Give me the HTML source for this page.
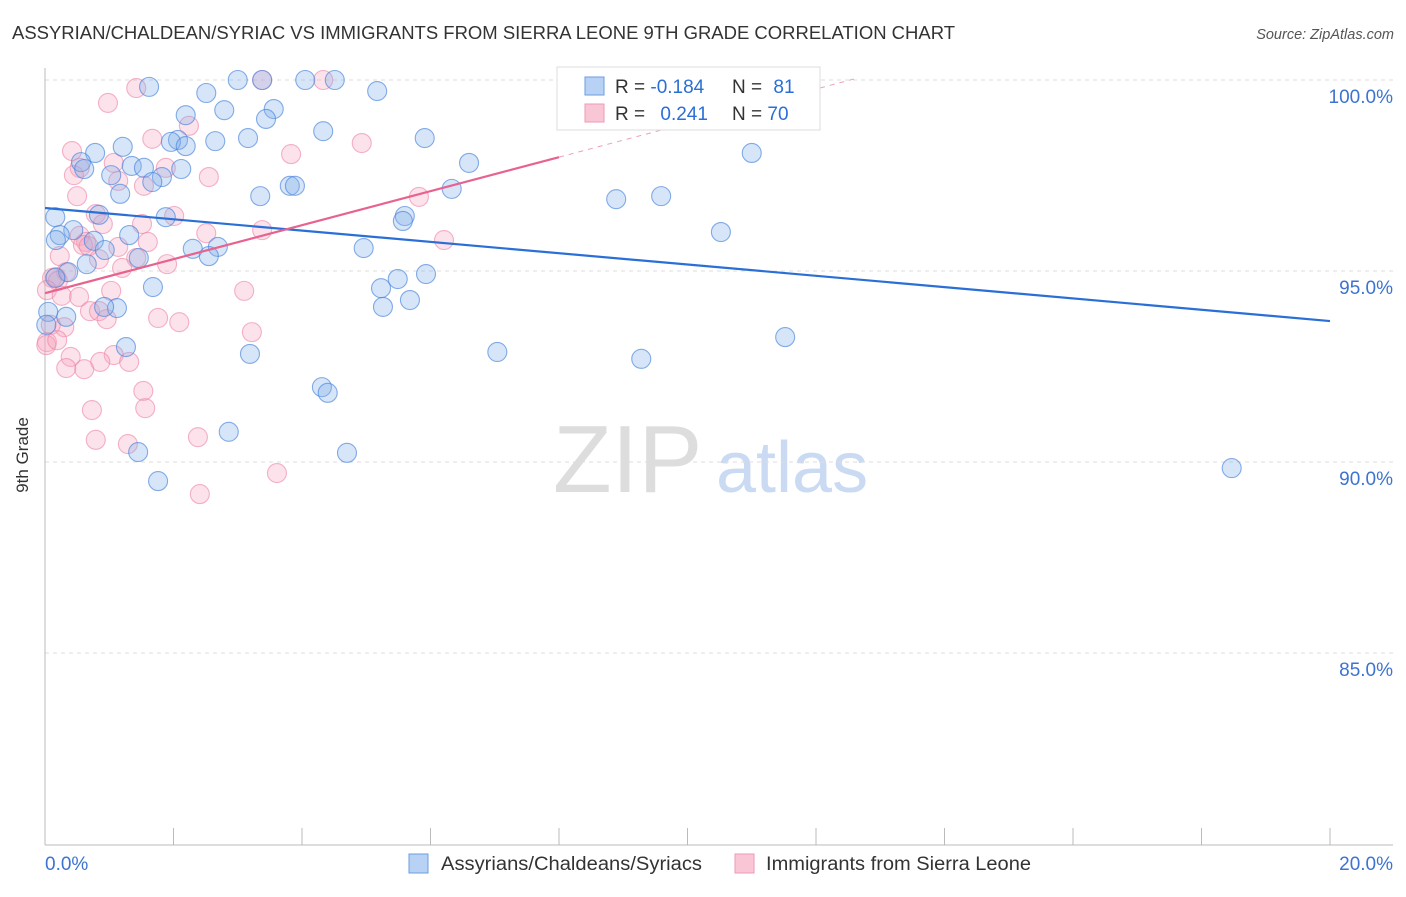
<!DOCTYPE html>
<html><head><meta charset="utf-8"><style>
body{margin:0;background:#fff;font-family:"Liberation Sans",sans-serif}
svg text{font-family:"Liberation Sans",sans-serif}
</style></head><body>
<svg width="1406" height="892" xmlns="http://www.w3.org/2000/svg">
<text x="12" y="39" font-size="18" fill="#333" textLength="943" lengthAdjust="spacingAndGlyphs">ASSYRIAN/CHALDEAN/SYRIAC VS IMMIGRANTS FROM SIERRA LEONE 9TH GRADE CORRELATION CHART</text>
<text x="1394" y="39" font-size="14.5" fill="#555" font-style="italic" text-anchor="end">Source: ZipAtlas.com</text>
<g>
<text x="553" y="492" font-size="96" fill="#ddd" font-family="Liberation Serif">ZIP</text>
<text x="716" y="492" font-size="72" fill="#c9daf2">atlas</text>
</g>
<g id="grid"></g>
<g id="axes"></g>
<g id="pts"></g>
<g id="trend"></g>
<text x="28" y="455" font-size="17" fill="#333" text-anchor="middle" transform="rotate(-90 28 455)">9th Grade</text>
<g>
<rect x="557" y="67" width="263" height="63" fill="#fff" stroke="#ddd"/>
<rect x="585" y="77" width="19" height="18" fill="#b8d2f5" stroke="#6b9de0"/>
<rect x="585" y="104" width="19" height="18" fill="#f9c6d6" stroke="#ee9ab6"/>
<text x="615" y="93" font-size="19" fill="#333">R = <tspan fill="#2a6fd6">-0.184</tspan></text>
<text x="732" y="93" font-size="19" fill="#333">N = <tspan fill="#2a6fd6" dx="6">81</tspan></text>
<text x="615" y="120" font-size="19" fill="#333">R = <tspan fill="#2a6fd6" dx="10">0.241</tspan></text>
<text x="732" y="120" font-size="19" fill="#333">N = <tspan fill="#2a6fd6">70</tspan></text>
</g>
<g>
<rect x="409" y="854" width="19" height="19" fill="#b8d2f5" stroke="#6b9de0"/>
<text x="441" y="870" font-size="19" fill="#333" textLength="261" lengthAdjust="spacingAndGlyphs">Assyrians/Chaldeans/Syriacs</text>
<rect x="735" y="854" width="19" height="19" fill="#f9c6d6" stroke="#ee9ab6"/>
<text x="766" y="870" font-size="19" fill="#333" textLength="265" lengthAdjust="spacingAndGlyphs">Immigrants from Sierra Leone</text>
</g>
</svg>
<script>
const blueX=[1.62,3.00,4.05,4.51,5.17,2.51,2.19,2.79,3.56,3.44,4.33,5.91,3.16,2.65,2.07,1.96,2.19,1.21,0.78,11.00,6.60,0.56,1.35,1.54,0.61,2.12,1.03,1.82,1.67,3.81,3.89,6.33,1.17,3.35,8.89,9.59,0.16,0.84,1.88,5.60,5.57,0.44,0.23,1.31,0.76,0.17,10.52,4.96,2.30,2.69,0.93,2.55,1.46,0.65,0.36,5.93,5.49,0.16,5.23,1.68,5.68,5.26,1.12,0.92,0.33,0.05,11.52,1.26,3.19,7.04,9.28,4.31,4.40,2.86,1.45,4.70,1.76,18.47,0.02,3.38];
const blueY=[99.82,100,100,100,99.71,99.66,99.08,99.21,99.24,98.98,98.66,98.48,98.48,98.40,98.43,98.38,98.27,98.25,98.09,98.09,97.83,97.85,97.75,97.70,97.67,97.67,97.51,97.46,97.33,97.23,97.23,97.15,97.02,96.96,96.88,96.96,96.41,96.47,96.41,96.44,96.31,96.07,95.94,95.94,95.79,95.81,96.02,95.60,95.58,95.63,95.55,95.39,95.34,95.18,94.97,94.92,94.79,94.82,94.55,94.58,94.24,94.06,94.03,94.06,93.80,93.93,93.27,93.01,92.83,92.88,92.70,91.96,91.81,90.79,90.26,90.24,89.50,89.84,93.59,100];
const pinkX=[3.38,4.33,1.42,0.98,1.67,2.24,4.93,0.42,3.83,1.07,0.54,0.45,2.55,1.14,1.54,0.50,0.79,2.01,1.51,0.90,3.38,2.51,0.54,0.64,0.59,0.68,1.60,1.14,5.82,6.21,0.84,1.42,1.20,1.90,0.23,0.33,0.11,0.17,0.20,0.03,0.26,0.53,1.03,3.10,0.70,0.84,1.76,0.96,2.09,3.22,0.30,0.03,0.40,1.07,0.86,1.31,0.61,0.33,1.53,1.56,0.73,1.29,0.79,2.38,3.61,2.41,0.02,0.09,1.88,0.19];
const pinkY=[100,100,99.79,99.40,98.46,98.80,98.35,98.14,98.06,97.83,97.70,97.51,97.46,97.36,97.23,96.96,96.49,96.44,96.23,96.23,96.07,95.99,95.92,95.76,95.68,95.65,95.76,95.63,96.94,95.81,95.31,95.34,95.08,95.18,95.39,94.97,94.82,94.84,94.74,94.50,94.35,94.32,94.48,94.48,93.95,93.95,93.77,93.74,93.66,93.40,93.53,93.14,92.75,92.80,92.62,92.62,92.43,92.46,91.86,91.41,91.36,90.47,90.58,90.65,89.71,89.16,93.06,93.59,97.70,93.19];
const blueTrendX=[0,20];
const blueTrendY=[96.65,93.69];
const pinkTrendX=[0,8];
const pinkTrendY=[94.42,97.98];
const pinkDashX=[8,12.6];
const pinkDashY=[97.98,100.03];
const yTicks=[100,95,90,85];
const yTickLabels=["100.0%","95.0%","90.0%","85.0%"];
const xTicks=[0,2,4,6,8,10,12,14,16,18,20];

const NS="http://www.w3.org/2000/svg";
const sx=v=>45+v*64.25;
const sy=v=>80+(100-v)*38.2;
function mk(tag,attrs,parent){const e=document.createElementNS(NS,tag);for(const k in attrs)e.setAttribute(k,attrs[k]);parent.appendChild(e);return e;}
const grid=document.getElementById('grid'),axes=document.getElementById('axes'),pts=document.getElementById('pts'),trend=document.getElementById('trend');
yTicks.forEach((t,i)=>{
 const l=mk('line',{x1:45,x2:1393,y1:sy(t),y2:sy(t),stroke:'#ddd','stroke-dasharray':'4,4'},grid);
 
 
 const tx=mk('text',{x:1393,y:sy(t)+23,'font-size':19,fill:'#3d73d1','text-anchor':'end'},axes);
 tx.textContent=yTickLabels[i];
 
 
});
const ax=mk('line',{x1:45,x2:1393,y1:845,y2:845,stroke:'#bbb'},axes);


const ay=mk('line',{x1:45,x2:45,y1:68,y2:845,stroke:'#bbb'},axes);


xTicks.forEach(t=>{
 const l=mk('line',{x1:sx(t),x2:sx(t),y1:828,y2:845,stroke:'#bbb'},axes);
 
 
});
const x0=mk('text',{x:45,y:870,'font-size':19,fill:'#3d73d1'},axes);x0.textContent='0.0%';


const x1=mk('text',{x:1393,y:870,'font-size':19,fill:'#3d73d1','text-anchor':'end'},axes);x1.textContent='20.0%';


function dots(X,Y,fill,stroke,name){X.forEach((x,i)=>{
 const c=mk('circle',{cx:sx(x),cy:sy(Y[i]),r:9.5,fill:fill,stroke:stroke,'stroke-width':1.1},pts);
 
 
});}
dots(pinkX,pinkY,'rgba(246,168,192,0.33)','rgba(236,130,165,0.6)','point-sierra-leone');
dots(blueX,blueY,'rgba(130,175,235,0.33)','rgba(70,130,220,0.65)','point-assyrians');
const bl=mk('line',{x1:sx(blueTrendX[0]),y1:sy(blueTrendY[0]),x2:sx(blueTrendX[1]),y2:sy(blueTrendY[1]),stroke:'#2a6fd6','stroke-width':2.2},trend);


const pl=mk('line',{x1:sx(pinkTrendX[0]),y1:sy(pinkTrendY[0]),x2:sx(pinkTrendX[1]),y2:sy(pinkTrendY[1]),stroke:'#e8628e','stroke-width':2.2},trend);


const pd=mk('line',{x1:sx(pinkDashX[0]),y1:sy(pinkDashY[0]),x2:sx(pinkDashX[1]),y2:sy(pinkDashY[1]),stroke:'#eea0b8','stroke-width':1,'stroke-dasharray':'5,5'},trend);


</script>
</body></html>
